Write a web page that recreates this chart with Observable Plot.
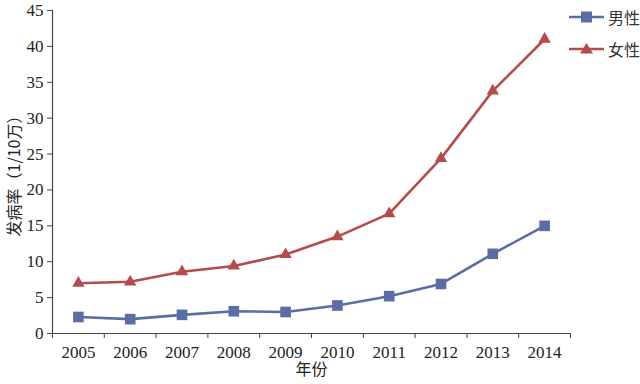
<!DOCTYPE html>
<html>
<head>
<meta charset="utf-8">
<script src="https://cdn.jsdelivr.net/npm/d3@7"></script>
<script src="https://cdn.jsdelivr.net/npm/@observablehq/plot@0.6"></script>
<style>
  html, body { margin: 0; padding: 0; background: #fff; }
  #wrap { position: relative; width: 640px; height: 384px; }
  .leg { position: absolute; left: 568px; display: flex; align-items: center; font-size: 16px; color: #333; font-family: "Noto Sans CJK SC", sans-serif; }
  .leg span { margin-left: 3px; }
</style>
</head>
<body>
<div id="wrap"></div>
<script>
const years = [2005, 2006, 2007, 2008, 2009, 2010, 2011, 2012, 2013, 2014];
const male = [2.3, 2.0, 2.6, 3.1, 3.0, 3.9, 5.2, 6.9, 11.1, 15.0];
const female = [7.0, 7.2, 8.6, 9.4, 11.0, 13.5, 16.7, 24.4, 33.8, 41.0];
const seriesNames = ["男性", "女性"];
const yTicks = [0, 5, 10, 15, 20, 25, 30, 35, 40, 45];
const xLabel = "年份";
const yLabel = "发病率（1/10万）";

const colors = { "男性": "#5a6ea3", "女性": "#b64b4b" };
const maleData = years.map((y, i) => ({ year: y, value: male[i] }));
const femaleData = years.map((y, i) => ({ year: y, value: female[i] }));
const bounds = d3.range(years[0] - 0.5, years[years.length - 1] + 1, 1);
const axisColor = "#444";
const serif = "'Liberation Serif', 'DejaVu Serif', serif";
const cjk = "'Noto Sans CJK SC', sans-serif";

const chart = Plot.plot({
  width: 640,
  height: 384,
  marginLeft: 52,
  marginRight: 70,
  marginTop: 10,
  marginBottom: 51,
  style: { background: "#fff", fontFamily: serif },
  x: { type: "linear", domain: [bounds[0], bounds[bounds.length - 1]] },
  y: { domain: [0, 45] },
  marks: [
    Plot.ruleY([0], { stroke: axisColor, strokeWidth: 1.2 }),
    Plot.ruleX([bounds[0]], { stroke: axisColor, strokeWidth: 1.2 }),
    Plot.axisY({ ticks: yTicks, tickSize: 5, tickPadding: 4, stroke: axisColor, label: null, fontSize: 17, fontFamily: serif, fill: "#222" }),
    Plot.axisX({ ticks: bounds, tickSize: 5, tickFormat: () => "", stroke: axisColor, label: null }),
    Plot.axisX({ ticks: years, tickSize: 0, tickPadding: 12, tickFormat: d => String(d), label: null, fontSize: 17, fontFamily: serif, fill: "#222" }),
    Plot.text([xLabel], { frameAnchor: "bottom", dy: 41, fontSize: 16, fill: "#222", fontFamily: cjk }),
    Plot.text([yLabel], { frameAnchor: "left", textAnchor: "middle", dx: -38, dy: 0, rotate: -90, fontSize: 16, fill: "#222", fontFamily: cjk }),
    Plot.line(maleData, { x: "year", y: "value", stroke: colors["男性"], strokeWidth: 2.6 }),
    Plot.line(femaleData, { x: "year", y: "value", stroke: colors["女性"], strokeWidth: 2.6 }),
    Plot.dot(maleData, { x: "year", y: "value", symbol: "square", r: 6, fill: colors["男性"], stroke: "none" }),
    Plot.dot(femaleData, { x: "year", y: "value", symbol: "triangle", r: 4.6, fill: colors["女性"], stroke: "none" })
  ]
});

const wrap = document.getElementById("wrap");
wrap.appendChild(chart);

function legendItem(name, top, shape) {
  const d = document.createElement("div");
  d.className = "leg";
  d.style.top = top + "px";
  const c = colors[name];
  const marker = shape === "square"
    ? `<rect x="13" y="4.5" width="11" height="11" fill="${c}"/>`
    : `<path d="M18.5,4 L25,14.5 L12,14.5 Z" fill="${c}"/>`;
  d.innerHTML = `<svg width="37" height="20"><line x1="1" y1="10" x2="36" y2="10" stroke="${c}" stroke-width="2.6"/>${marker}</svg><span>${name}</span>`;
  wrap.appendChild(d);
}
legendItem(seriesNames[0], 5, "square");
legendItem(seriesNames[1], 37, "triangle");
</script>
</body>
</html>
